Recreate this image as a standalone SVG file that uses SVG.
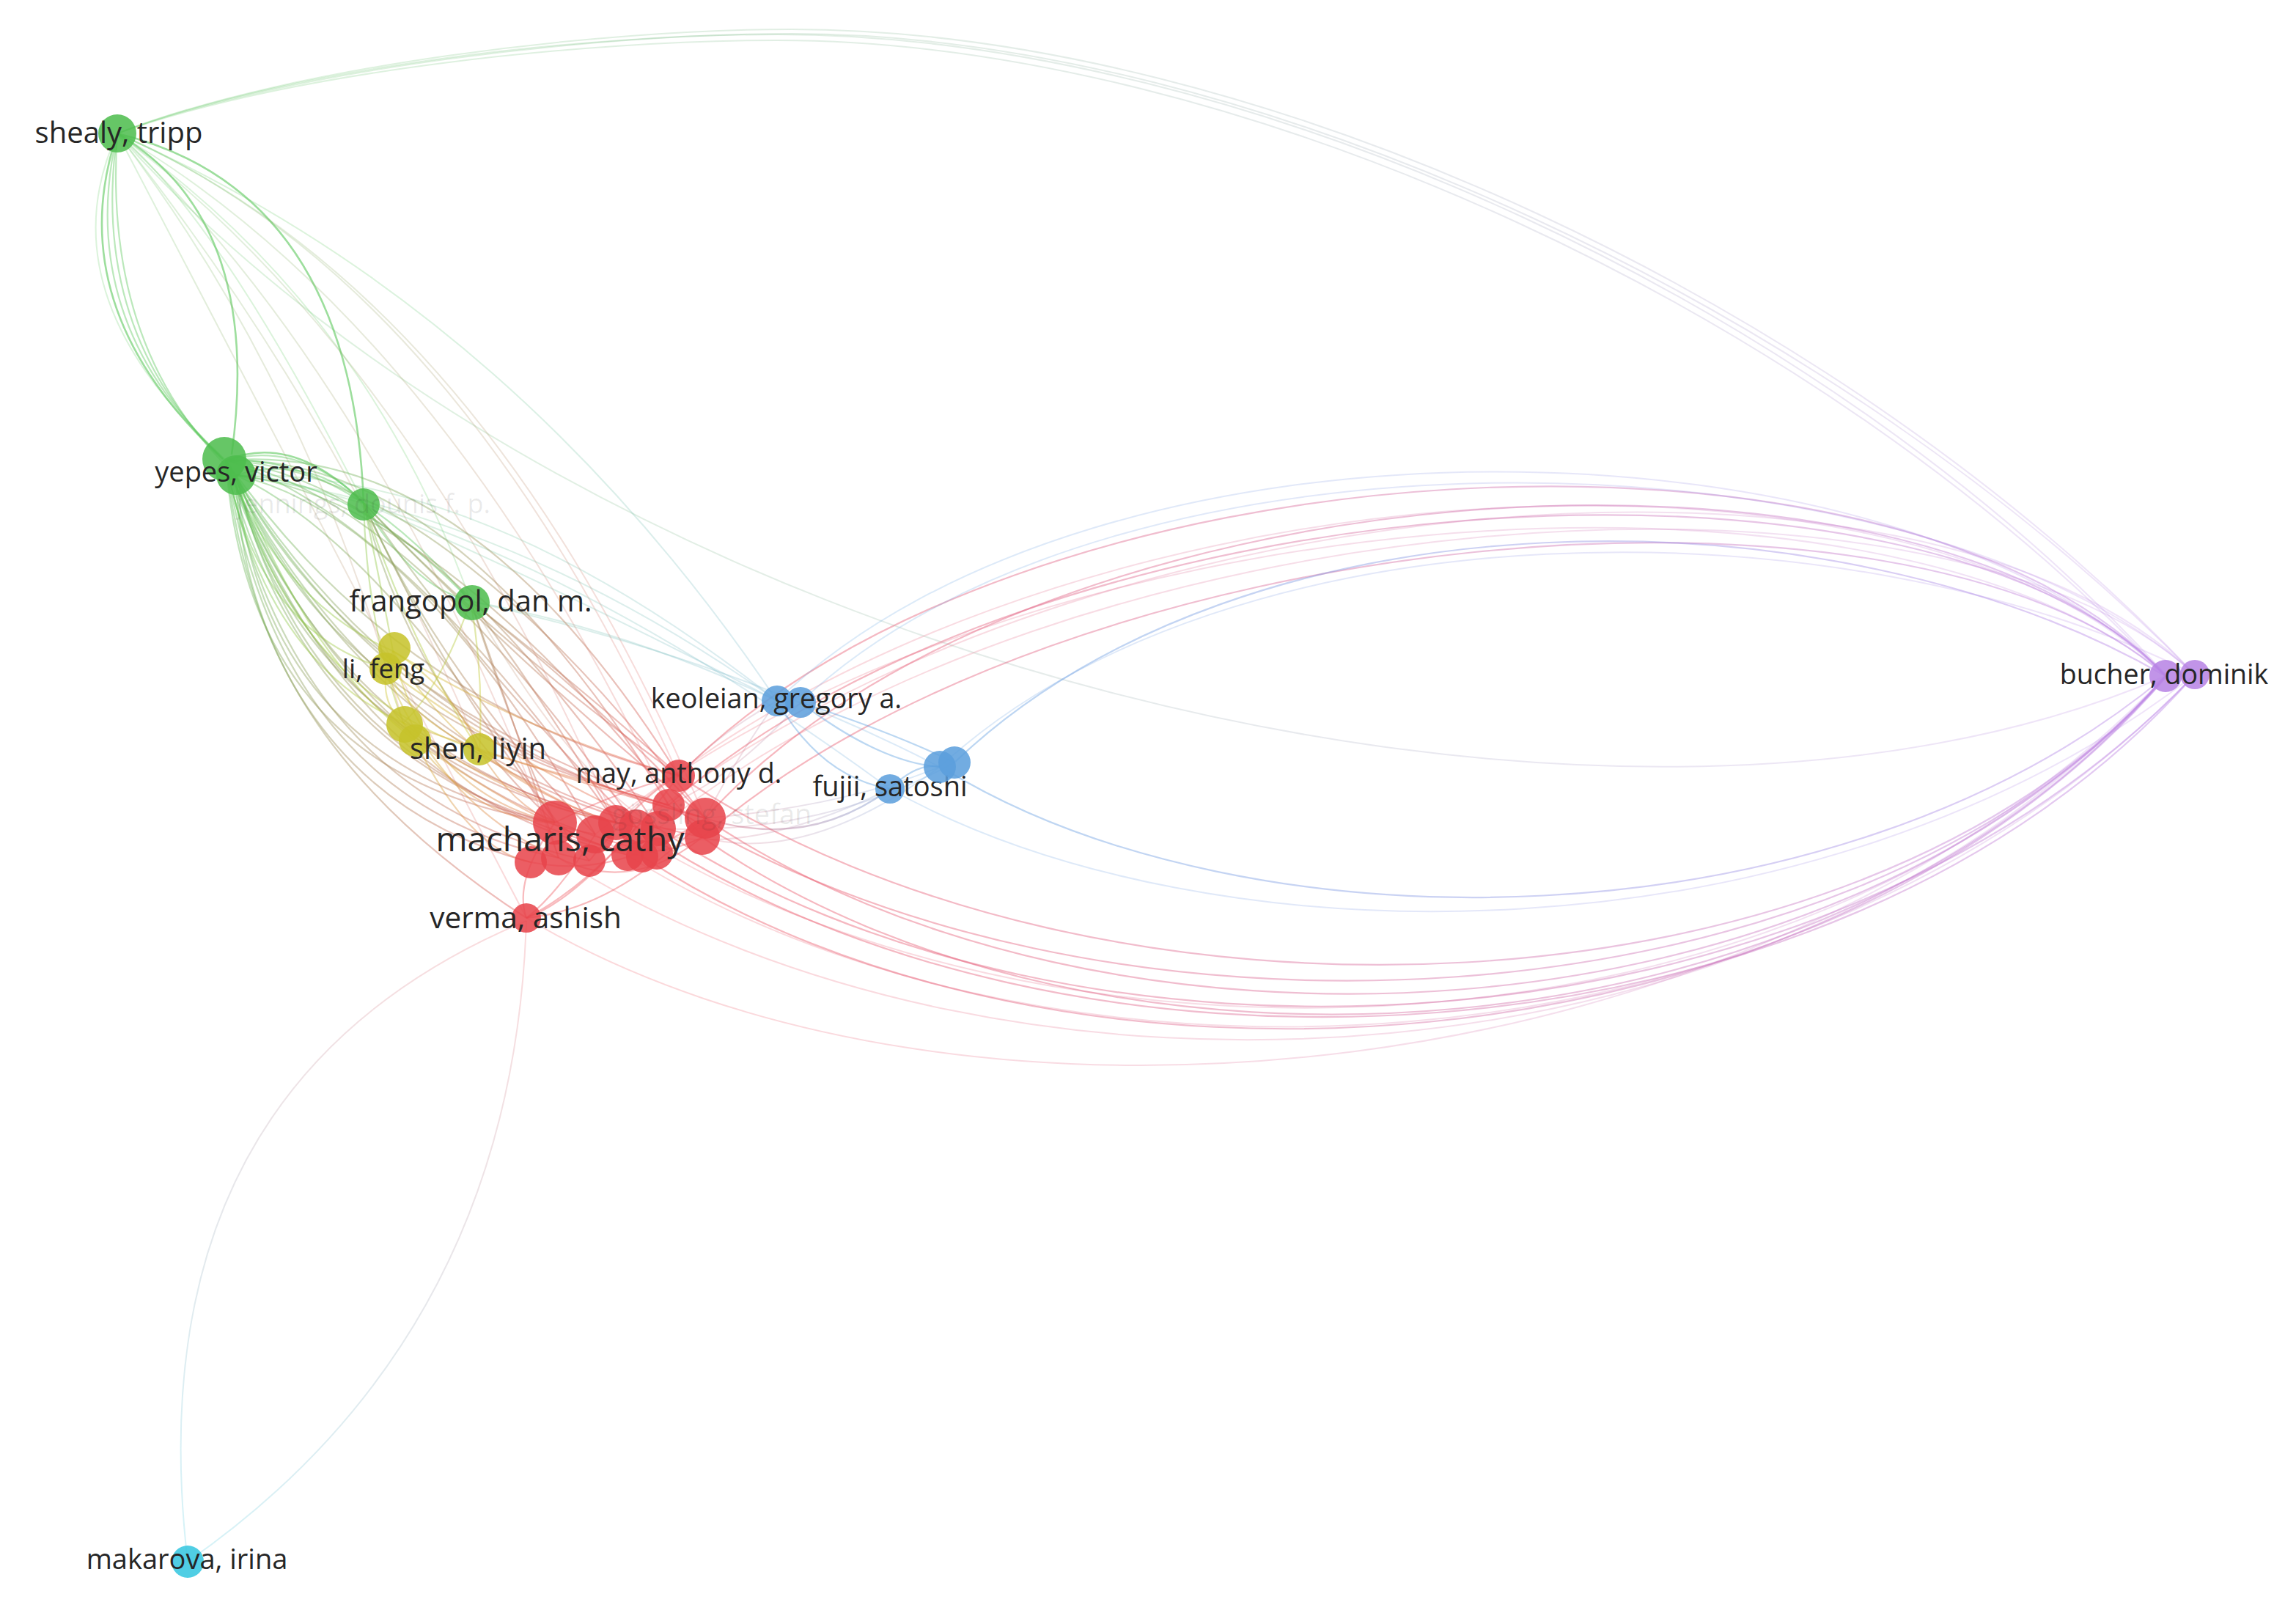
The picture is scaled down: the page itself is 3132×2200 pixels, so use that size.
<svg xmlns="http://www.w3.org/2000/svg" width="3132" height="2200" viewBox="0 0 3132 2200">
<style>
.e{fill:none;stroke-width:2.2;stroke-opacity:.42}
.f{fill:none;stroke-width:2;stroke-opacity:.22}
.s{fill:none;stroke-width:2.6;stroke-opacity:.6}
.n{fill-opacity:.86}
.g{fill:#4dbd4d}.r{fill:#e8434b}.y{fill:#c6c22a}.b{fill:#5b9edc}.p{fill:#b782e4}.c{fill:#33c6df}
.l{font-family:"Open Sans","Noto Sans","DejaVu Sans",sans-serif;fill:#262626;text-anchor:middle}
.h{fill-opacity:.1}
</style>
<defs>
<linearGradient id="gSB" gradientUnits="userSpaceOnUse" x1="160" y1="182" x2="2954" y2="922"><stop offset="0" stop-color="#5cc85c"/><stop offset="1" stop-color="#b982e6"/></linearGradient>
<linearGradient id="gRB" gradientUnits="userSpaceOnUse" x1="900" y1="1100" x2="2954" y2="922"><stop offset="0" stop-color="#ee4f5a"/><stop offset="1" stop-color="#b982e6"/></linearGradient>
<linearGradient id="gBB" gradientUnits="userSpaceOnUse" x1="1260" y1="1050" x2="2954" y2="922"><stop offset="0" stop-color="#5c9fe0"/><stop offset="1" stop-color="#b982e6"/></linearGradient>
<linearGradient id="gVM" gradientUnits="userSpaceOnUse" x1="718" y1="1256" x2="256" y2="2130"><stop offset="0" stop-color="#ee5a62"/><stop offset="1" stop-color="#3cc8e0"/></linearGradient>
<linearGradient id="gGR" gradientUnits="userSpaceOnUse" x1="308" y1="640" x2="900" y2="1140"><stop offset="0" stop-color="#5cc85c"/><stop offset="1" stop-color="#ee4f5a"/></linearGradient>
<linearGradient id="gGY" gradientUnits="userSpaceOnUse" x1="308" y1="640" x2="620" y2="1010"><stop offset="0" stop-color="#5cc85c"/><stop offset="1" stop-color="#cdc930"/></linearGradient>
<linearGradient id="gYR" gradientUnits="userSpaceOnUse" x1="540" y1="900" x2="900" y2="1140"><stop offset="0" stop-color="#cdc930"/><stop offset="1" stop-color="#ee4f5a"/></linearGradient>
<linearGradient id="gBR" gradientUnits="userSpaceOnUse" x1="1250" y1="1040" x2="900" y2="1120"><stop offset="0" stop-color="#5c9fe0"/><stop offset="1" stop-color="#ee4f5a"/></linearGradient>
<linearGradient id="gGB" gradientUnits="userSpaceOnUse" x1="322" y1="648" x2="1214" y2="1076"><stop offset="0" stop-color="#5cc85c"/><stop offset="1" stop-color="#5c9fe0"/></linearGradient>
<linearGradient id="gSR" gradientUnits="userSpaceOnUse" x1="160" y1="182" x2="900" y2="1100"><stop offset="0" stop-color="#5cc85c"/><stop offset="1" stop-color="#ee4f5a"/></linearGradient>
</defs>
<rect width="3132" height="2200" fill="#fff"/>
<g id="edges">
<!-- shealy to bucher -->
<g stroke="url(#gSB)">
<path class="f" d="M160,182 C400,90 800,47 1060,47 C1700,47 2500,420 2954,920"/>
<path class="f" d="M160,182 C400,96 800,55 1060,55 C1690,55 2490,428 2954,922"/>
<path class="f" d="M160,182 C400,88 820,40 1080,40 C1720,40 2520,420 2994,920"/>
<path class="f" d="M160,182 C400,92 820,46 1080,46 C1710,46 2510,426 2994,920"/>
<path class="f" d="M160,182 C800,900 2200,1250 2954,922"/>
</g>
<!-- red cluster to bucher -->
<g stroke="url(#gRB)">
<path class="e" d="M962,1116 C1400,630 2600,550 2954,922"/>
<path class="e" d="M926,1058 C1380,590 2600,530 2954,922"/>
<path class="e" d="M912,1098 C1420,650 2620,570 2956,922"/>
<path class="f" d="M898,1130 C1450,680 2640,590 2994,920"/>
<path class="f" d="M840,1122 C1400,630 2580,550 2954,922"/>
<path class="f" d="M868,1128 C1440,660 2620,550 2994,920"/>
<path class="e" d="M958,1142 C1460,710 2600,610 2954,922"/>
<path class="f" d="M812,1138 C1380,670 2560,590 2956,922"/>
<path class="e" d="M962,1116 C1500,1480 2500,1440 2954,922"/>
<path class="e" d="M958,1142 C1500,1520 2500,1460 2954,922"/>
<path class="e" d="M912,1098 C1480,1460 2520,1420 2956,922"/>
<path class="e" d="M898,1130 C1460,1500 2480,1460 2994,920"/>
<path class="e" d="M926,1058 C1500,1440 2540,1400 2954,922"/>
<path class="e" d="M868,1128 C1440,1520 2500,1480 2994,920"/>
<path class="f" d="M840,1122 C1420,1500 2460,1470 2954,922"/>
<path class="e" d="M876,1168 C1440,1540 2480,1480 2956,922"/>
<path class="f" d="M812,1138 C1400,1540 2450,1490 2994,920"/>
<path class="f" d="M762,1170 C1380,1560 2440,1500 2954,922"/>
<path class="f" d="M718,1252 C1300,1600 2400,1500 2954,922"/>
</g>
<!-- blue to bucher -->
<g stroke="url(#gBB)">
<path class="e" d="M1302,1040 C1700,660 2500,660 2954,922"/>
<path class="f" d="M1282,1046 C1680,680 2520,680 2994,920"/>
<path class="f" d="M1060,956 C1500,530 2600,560 2954,922"/>
<path class="f" d="M1092,958 C1520,550 2620,580 2994,920"/>
<path class="e" d="M1290,1050 C1700,1300 2500,1300 2954,922"/>
<path class="f" d="M1214,1076 C1650,1320 2480,1320 2994,920"/>
</g>
<!-- verma to makarova -->
<g stroke="url(#gVM)">
<path class="f" d="M718,1256 Q180,1480 256,2130"/>
<path class="f" d="M718,1256 Q700,1820 256,2130"/>
</g>
<!-- shealy to yepes and green nodes -->
<g stroke="#5cc85c">
<path class="s" d="M160,182 Q80,420 304,626"/>
<path class="e" d="M160,182 Q100,440 310,630"/>
<path class="e" d="M160,182 Q120,460 318,640"/>
<path class="e" d="M160,182 Q140,480 322,648"/>
<path class="f" d="M160,182 Q60,400 300,620"/>
<path class="s" d="M160,182 Q360,300 316,620"/>
<path class="s" d="M160,182 Q480,260 496,686"/>
<path class="f" d="M160,182 Q500,420 642,820"/>
<path class="f" d="M160,182 Q300,300 496,686"/>
<path class="s" d="M308,628 Q400,590 496,686"/>
<path class="e" d="M308,628 Q410,600 496,686"/>
<path class="e" d="M322,648 Q420,620 496,686"/>
<path class="e" d="M308,628 Q470,620 642,820"/>
<path class="e" d="M322,648 Q480,650 642,820"/>
<path class="e" d="M496,686 Q560,800 642,820"/>
</g>
<!-- shealy fan -->
<g stroke="url(#gSR)">
<path class="f" d="M160,182 Q620,380 926,1058"/>
<path class="f" d="M160,182 Q600,440 912,1098"/>
<path class="f" d="M160,182 Q560,480 840,1122"/>
<path class="f" d="M160,182 Q520,520 762,1170"/>
<path class="f" d="M160,182 Q660,400 962,1116"/>
<path class="f" d="M160,182 Q460,560 654,1024"/>
<path class="f" d="M160,182 Q420,520 550,986"/>
<path class="f" d="M160,182 Q380,600 718,1252"/>
</g>
<g stroke="url(#gGB)">
<path class="f" d="M160,182 Q700,420 1060,956"/>
<path class="f" d="M322,648 Q660,640 1060,956"/>
<path class="f" d="M322,648 Q700,700 1214,1076"/>
<path class="f" d="M642,820 Q860,860 1060,956"/>
<path class="f" d="M642,820 Q1000,900 1282,1046"/>
<path class="f" d="M496,686 Q760,800 1060,956"/>
<path class="f" d="M1060,956 Q700,700 322,648"/>
</g>
<!-- yepes to red cluster -->
<g stroke="url(#gGR)">
<path class="e" d="M308,628 Q340,1060 757,1122"/>
<path class="e" d="M308,628 Q360,1080 724,1176"/>
<path class="e" d="M308,628 Q380,1090 762,1170"/>
<path class="e" d="M308,628 Q400,1090 804,1174"/>
<path class="e" d="M308,628 Q420,1060 812,1138"/>
<path class="e" d="M308,628 Q440,1040 840,1122"/>
<path class="e" d="M308,628 Q460,1040 868,1128"/>
<path class="e" d="M308,628 Q470,1080 856,1166"/>
<path class="e" d="M308,628 Q480,1070 896,1164"/>
<path class="e" d="M308,628 Q500,1030 898,1130"/>
<path class="e" d="M308,628 Q520,1000 912,1098"/>
<path class="e" d="M308,628 Q540,960 926,1058"/>
<path class="e" d="M308,628 Q540,1010 962,1116"/>
<path class="e" d="M308,628 Q520,1050 958,1142"/>
<path class="e" d="M322,648 Q330,1000 718,1252"/>
<path class="e" d="M322,648 Q360,1040 757,1122"/>
<path class="e" d="M322,648 Q400,1000 840,1122"/>
<path class="e" d="M322,648 Q450,980 912,1098"/>
<path class="e" d="M322,648 Q480,960 962,1116"/>
<path class="e" d="M322,648 Q420,1060 876,1168"/>
<path class="e" d="M308,628 Q640,600 926,1058"/>
<path class="e" d="M308,628 Q620,620 912,1098"/>
<path class="e" d="M308,628 Q600,640 962,1116"/>
<path class="e" d="M308,628 Q580,660 898,1130"/>
<path class="e" d="M308,628 Q560,680 868,1128"/>
<path class="e" d="M308,628 Q540,700 840,1122"/>
<path class="e" d="M322,648 Q560,700 812,1138"/>
<path class="e" d="M322,648 Q600,680 958,1142"/>
<path class="e" d="M322,648 Q520,740 757,1122"/>
<path class="e" d="M496,686 Q560,940 757,1122"/>
<path class="e" d="M496,686 Q600,920 812,1138"/>
<path class="e" d="M496,686 Q640,900 868,1128"/>
<path class="e" d="M496,686 Q680,880 926,1058"/>
<path class="e" d="M496,686 Q700,900 962,1116"/>
<path class="e" d="M496,686 Q620,960 804,1174"/>
<path class="e" d="M642,820 Q700,1000 757,1122"/>
<path class="e" d="M642,820 Q760,980 840,1122"/>
<path class="e" d="M642,820 Q820,960 926,1058"/>
<path class="e" d="M642,820 Q840,980 962,1116"/>
<path class="e" d="M642,820 Q720,1040 762,1170"/>
<path class="f" d="M642,820 Q780,1060 898,1130"/>
</g>
<!-- green to yellow -->
<g stroke="url(#gGY)">
<path class="e" d="M308,628 Q380,820 536,888"/>
<path class="e" d="M308,628 Q360,900 550,986"/>
<path class="e" d="M322,648 Q400,940 654,1024"/>
<path class="e" d="M308,628 Q350,860 526,912"/>
<path class="e" d="M322,648 Q420,900 566,1010"/>
<path class="e" d="M496,686 Q500,850 550,986"/>
<path class="e" d="M496,686 Q560,880 654,1024"/>
<path class="e" d="M642,820 Q660,920 654,1024"/>
<path class="e" d="M642,820 Q600,940 550,986"/>
<path class="e" d="M496,686 Q520,800 536,888"/>
</g>
<!-- yellow to red -->
<g stroke="url(#gYR)">
<path class="e" d="M536,888 Q580,1080 757,1122"/>
<path class="e" d="M536,888 Q640,1060 840,1122"/>
<path class="e" d="M536,888 Q720,1000 926,1058"/>
<path class="e" d="M526,912 Q600,1100 762,1170"/>
<path class="e" d="M526,912 Q700,1040 898,1130"/>
<path class="e" d="M550,986 Q640,1120 757,1122"/>
<path class="e" d="M550,986 Q700,1100 868,1128"/>
<path class="e" d="M550,986 Q760,1060 962,1116"/>
<path class="e" d="M566,1010 Q640,1160 724,1176"/>
<path class="e" d="M566,1010 Q720,1120 856,1166"/>
<path class="e" d="M654,1024 Q700,1100 757,1122"/>
<path class="e" d="M654,1024 Q780,1060 912,1098"/>
<path class="e" d="M654,1024 Q760,1100 840,1122"/>
<path class="e" d="M536,888 Q510,950 550,986"/>
<path class="e" d="M526,912 Q560,980 654,1024"/>
<path class="e" d="M536,888 Q620,940 654,1024"/>
</g>
<!-- red internal -->
<g stroke="#ee5a62">
<path class="e" d="M757,1122 Q700,1200 718,1252"/>
<path class="e" d="M812,1138 Q760,1220 718,1252"/>
<path class="e" d="M868,1128 Q780,1230 718,1252"/>
<path class="e" d="M926,1058 Q820,1200 718,1252"/>
<path class="e" d="M962,1116 Q840,1240 718,1252"/>
<path class="e" d="M757,1122 Q840,1080 926,1058"/>
<path class="e" d="M724,1176 Q840,1200 962,1116"/>
<path class="e" d="M762,1170 Q860,1220 958,1142"/>
<path class="e" d="M804,1174 Q880,1080 926,1058"/>
<path class="e" d="M757,1122 Q860,1190 958,1142"/>
</g>
<!-- blue internal / blue to red -->
<g stroke="#5c9fe0">
<path class="e" d="M1060,956 Q1120,1060 1214,1076"/>
<path class="e" d="M1092,958 Q1200,1040 1282,1046"/>
<path class="e" d="M1092,958 Q1220,1000 1302,1040"/>
<path class="e" d="M1214,1076 Q1250,1040 1282,1046"/>
</g>
<g stroke="url(#gBR)">
<path class="f" d="M1060,956 Q1000,1040 962,1116"/>
<path class="f" d="M1060,956 Q980,1000 926,1058"/>
<path class="f" d="M1092,958 Q1000,1060 912,1098"/>
<path class="e" d="M1214,1076 Q1100,1160 962,1116"/>
<path class="f" d="M1282,1046 Q1100,1180 958,1142"/>
<path class="f" d="M1302,1040 Q1120,1140 898,1130"/>
<path class="f" d="M1214,1076 Q1000,1180 868,1128"/>
<path class="f" d="M1282,1046 Q1150,1100 962,1116"/>
</g>
</g>
<g id="node-shealy"><circle class="n g" cx="160" cy="182" r="26"/><text class="l" x="162" y="195" font-size="40">shealy, tripp</text></g>
<g id="node-yepes"><circle class="n g" cx="306" cy="626" r="30"/><circle class="n g" cx="322" cy="648" r="27"/><text class="l" x="322" y="657" font-size="38">yepes, victor</text></g>
<g id="node-green3"><circle class="n g" cx="496" cy="688" r="22"/><text class="l h" x="496" y="700" font-size="36">jennings, dounis f. p.</text></g>
<g id="node-frangopol"><circle class="n g" cx="644" cy="822" r="24"/><text class="l" x="642" y="834" font-size="40">frangopol, dan m.</text></g>
<g id="node-li"><circle class="n y" cx="538" cy="884" r="22"/><circle class="n y" cx="526" cy="912" r="22"/><text class="l" x="523" y="925" font-size="36.5">li, feng</text></g>
<g id="node-yellow3"><circle class="n y" cx="552" cy="988" r="25"/><circle class="n y" cx="566" cy="1010" r="22"/></g>
<g id="node-shen"><circle class="n y" cx="654" cy="1022" r="22"/><text class="l" x="652" y="1035" font-size="40">shen, liyin</text></g>
<g id="node-cluster">
<circle class="n r" cx="757" cy="1122" r="30"/>
<circle class="n r" cx="724" cy="1176" r="22"/>
<circle class="n r" cx="762" cy="1170" r="24"/>
<circle class="n r" cx="804" cy="1174" r="22"/>
<circle class="n r" cx="812" cy="1138" r="26"/>
<circle class="n r" cx="840" cy="1122" r="24"/>
<circle class="n r" cx="868" cy="1128" r="24"/>
<circle class="n r" cx="856" cy="1166" r="22"/>
<circle class="n r" cx="876" cy="1168" r="22"/>
<circle class="n r" cx="896" cy="1164" r="22"/>
<circle class="n r" cx="898" cy="1130" r="24"/>
<circle class="n r" cx="912" cy="1098" r="22"/>
</g>
<g id="node-may"><circle class="n r" cx="926" cy="1058" r="22"/><text class="l" x="926" y="1068" font-size="37.5">may, anthony d.</text></g>
<g id="node-stefan"><circle class="n r" cx="962" cy="1116" r="28"/><circle class="n r" cx="958" cy="1142" r="24"/><text class="l h" x="971" y="1124" font-size="38">gössling, stefan</text></g>
<g id="node-macharis"><text class="l" x="764" y="1161" font-size="46.5">macharis, cathy</text></g>
<g id="node-verma"><circle class="n r" cx="718" cy="1252" r="20"/><text class="l" x="717" y="1266" font-size="40.5">verma, ashish</text></g>
<g id="node-keoleian"><circle class="n b" cx="1060" cy="956" r="21"/><circle class="n b" cx="1092" cy="958" r="21"/><text class="l" x="1059" y="966" font-size="37.7">keoleian, gregory a.</text></g>
<g id="node-fujii"><circle class="n b" cx="1214" cy="1076" r="20"/><text class="l" x="1214" y="1086" font-size="38">fujii, satoshi</text></g>
<g id="node-blue3"><circle class="n b" cx="1282" cy="1046" r="22"/><circle class="n b" cx="1302" cy="1040" r="22"/></g>
<g id="node-bucher"><circle class="n p" cx="2954" cy="922" r="22"/><circle class="n p" cx="2994" cy="920" r="20"/><text class="l" x="2952" y="933" font-size="37.5">bucher, dominik</text></g>
<g id="node-makarova"><circle class="n c" cx="256" cy="2130" r="22"/><text class="l" x="255" y="2140" font-size="38">makarova, irina</text></g>
</svg>
